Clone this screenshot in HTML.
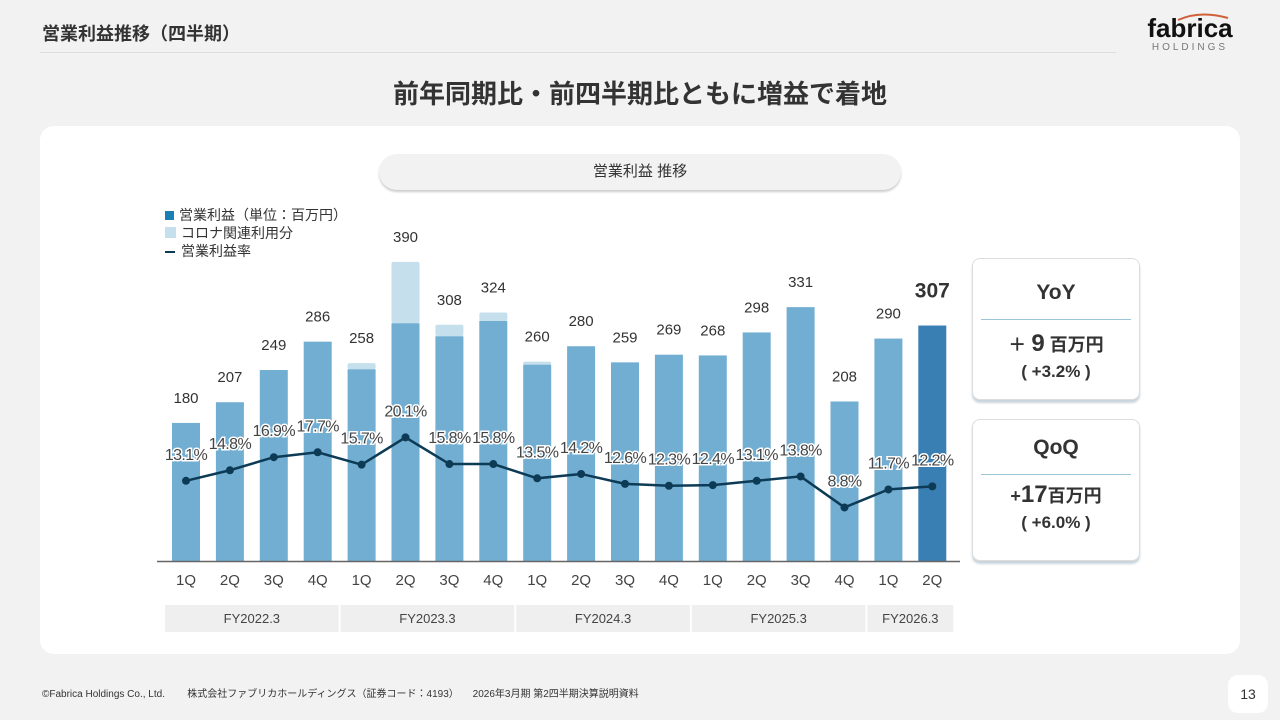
<!DOCTYPE html>
<html><head><meta charset="utf-8">
<style>
body{margin:0;width:1280px;height:720px;background:#f2f2f2;font-family:"Liberation Sans","Noto Sans CJK JP",sans-serif;position:relative;overflow:hidden;color:#333}
.abs{position:absolute}
</style></head><body>
<div class="abs" style="left:42px;top:20px;font-size:18px;font-weight:bold;color:#333">営業利益推移（四半期）</div>
<div class="abs" style="left:40px;top:52px;width:1076px;height:1px;background:#ddd"></div>
<div class="abs" style="left:1140px;top:10px;width:100px;text-align:center">
 <svg width="100" height="14" style="position:absolute;left:0;top:0"><path d="M38 10 Q60 0 88 8" stroke="#d0603a" stroke-width="2" fill="none"/></svg>
 <div style="font-size:26px;font-weight:bold;color:#111;margin-top:4px;line-height:28px">fabrica</div>
 <div style="font-size:10px;letter-spacing:3px;color:#777">HOLDINGS</div>
</div>
<div class="abs" style="left:0;width:1280px;top:74px;text-align:center;font-size:26px;font-weight:bold;color:#333">前年同期比・前四半期比ともに増益で着地</div>
<div class="abs" style="left:40px;top:126px;width:1200px;height:528px;background:#fff;border-radius:14px"></div>
<div class="abs" style="left:379px;top:154px;width:522px;height:36px;background:#f2f2f2;border-radius:18px;box-shadow:0 2px 2px #ccc;text-align:center;line-height:36px;font-size:15px">営業利益 推移</div>
<div class="abs" style="left:165px;top:206px;font-size:14px;line-height:18px">
 <div><span style="display:inline-block;width:9px;height:9px;background:#1a7fb5;margin-right:5px"></span>営業利益（単位：百万円）</div>
 <div><span style="display:inline-block;width:11px;height:11px;background:#c5e0ec;margin-right:5px"></span>コロナ関連利用分</div>
 <div><span style="display:inline-block;width:10px;height:2px;background:#0d3b56;margin-right:6px;vertical-align:middle"></span>営業利益率</div>
</div>
<svg id="chart" class="abs" style="left:0;top:0" width="1280" height="720"></svg>
<div class="abs" style="left:972px;top:258px;width:166px;height:140px;background:#fff;border:1px solid #ddd;border-radius:8px;box-shadow:0 3px 2px #c9d5dc;text-align:center">
 <div style="font-size:21px;font-weight:bold;margin-top:22px">YoY</div>
 <div style="margin:14px 8px 0;height:1px;background:#9cc7da"></div>
 <div style="font-size:18px;font-weight:bold;margin-top:10px">＋ <span style="font-size:24px">9</span> 百万円</div>
 <div style="font-size:17px;font-weight:bold;margin-top:4px">( +3.2% )</div>
</div>
<div class="abs" style="left:972px;top:419px;width:166px;height:140px;background:#fff;border:1px solid #ddd;border-radius:8px;box-shadow:0 3px 2px #c9d5dc;text-align:center">
 <div style="font-size:21px;font-weight:bold;margin-top:16px">QoQ</div>
 <div style="margin:14px 8px 0;height:1px;background:#9cc7da"></div>
 <div style="font-size:18px;font-weight:bold;margin-top:6px">+<span style="font-size:24px">17</span>百万円</div>
 <div style="font-size:17px;font-weight:bold;margin-top:4px">(  +6.0% )</div>
</div>
<div class="abs" style="left:42px;top:685px;font-size:10px;color:#333;white-space:pre">©Fabrica Holdings Co., Ltd.        株式会社ファブリカホールディングス（証券コード：4193）     2026年3月期 第2四半期決算説明資料</div>
<div class="abs" style="left:1228px;top:675px;width:40px;height:38px;background:#fff;border-radius:10px;text-align:center;line-height:38px;font-size:14px">13</div>
<script>
const quarters=["1Q","2Q","3Q","4Q","1Q","2Q","3Q","4Q","1Q","2Q","3Q","4Q","1Q","2Q","3Q","4Q","1Q","2Q"];
const totals=[180,207,249,286,258,390,308,324,260,280,259,269,268,298,331,208,290,307];
const covid=[0,0,0,0,8,80,15,11,4,0,0,0,0,0,0,0,0,0];
const rates=[13.1,14.8,16.9,17.7,15.7,20.1,15.8,15.8,13.5,14.2,12.6,12.3,12.4,13.1,13.8,8.8,11.7,12.2];
const years=["FY2022.3","FY2023.3","FY2024.3","FY2025.3","FY2026.3"];
const yearCounts=[4,4,4,4,2];
const svg=document.getElementById('chart');
const NS="http://www.w3.org/2000/svg";
const base=561, x0=186, step=43.9, bw=28;
const xs=i=>x0+i*step;
const yv=v=>base-v*0.767;
const yr=r=>562-r*6.2;
function mk(t,a,txt){const e=document.createElementNS(NS,t);for(const k in a)e.setAttribute(k,a[k]);if(txt!=null)e.textContent=txt;svg.appendChild(e);return e;}
totals.forEach((v,i)=>{
  const last=i===totals.length-1;
  const c=covid[i];
  if(c>0){const r=mk('rect',{x:xs(i)-bw/2,y:yv(v),width:bw,height:yv(v-c)-yv(v),fill:'#c5e0ec',rx:2});
    
    }
  const b=mk('rect',{x:xs(i)-bw/2,y:yv(v-c),width:bw,height:base-yv(v-c),fill:last?'#3a7fb3':'#72aed2'});
  
  
  const t=mk('text',{x:xs(i),y:yv(v)-(last?28:20),'text-anchor':'middle','font-size':last?21:15,'font-weight':last?'bold':'normal',fill:'#333'},String(v));
  
  
  const q=mk('text',{x:xs(i),y:585,'text-anchor':'middle','font-size':15,fill:'#444'},quarters[i]);
  
  
});
const ax=mk('line',{x1:157,x2:960,y1:base+0.5,y2:base+0.5,stroke:'#666','stroke-width':1.5});


const pl=mk('polyline',{points:rates.map((r,i)=>xs(i)+','+yr(r)).join(' '),fill:'none',stroke:'#0d3b56','stroke-width':2.5});


rates.forEach((r,i)=>{
  const c=mk('circle',{cx:xs(i),cy:yr(r),r:4,fill:'#0d3b56'});
  
  
  const t=mk('text',{x:xs(i),y:yr(r)-21,'text-anchor':'middle','font-size':16,fill:'#444',stroke:'#fff','stroke-width':3,'paint-order':'stroke','letter-spacing':-0.6},r.toFixed(1)+'%');
  
  
});
let start=0;
years.forEach((y,k)=>{
  const n=yearCounts[k];
  const left=xs(start)-bw/2-9, right=xs(start+n-1)+bw/2+9;
  const r=mk('rect',{x:left+2,y:605,width:right-left-4,height:27,fill:'#efefef'});
  
  
  const t=mk('text',{x:(left+right)/2,y:623,'text-anchor':'middle','font-size':13,fill:'#444'},y);
  
  
  start+=n;
});
</script>
</body></html>
